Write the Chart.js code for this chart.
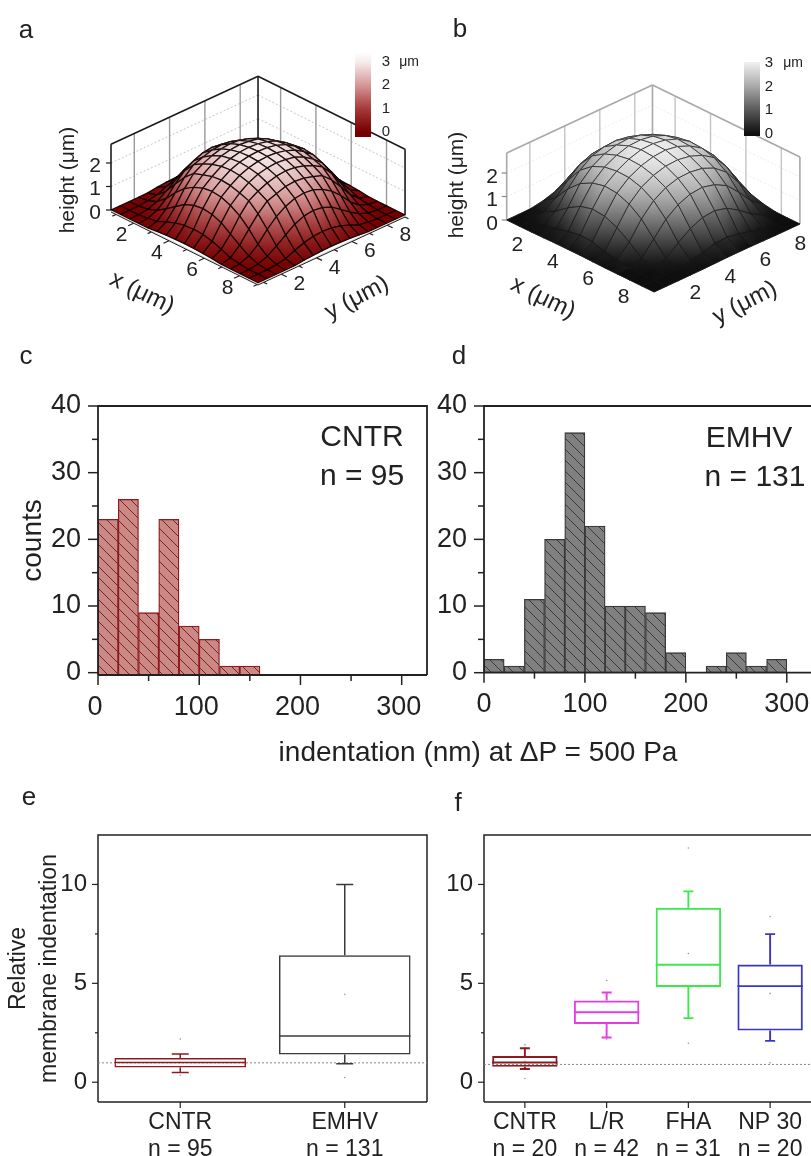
<!DOCTYPE html>
<html>
<head>
<meta charset="utf-8">
<title>Membrane indentation</title>
<script src="https://cdn.jsdelivr.net/npm/chart.js@4"></script>
<style>
  html, body { margin: 0; padding: 0; background: #fff; }
  body { position: relative; width: 811px; height: 1156px; overflow: hidden; font-family: "Liberation Sans", Arial, sans-serif; color: #222; }
  canvas { position: absolute; }
  .txt { position: absolute; white-space: nowrap; line-height: 1; transform: translate(-50%, -50%); }
</style>
</head>
<body>
<canvas id="surfA" width="440" height="335" style="left:0;top:0"></canvas>
<canvas id="surfB" width="371" height="335" style="left:440px;top:0"></canvas>
<canvas id="histC" width="430" height="360" style="left:0;top:380px"></canvas>
<canvas id="histD" width="381" height="360" style="left:430px;top:380px"></canvas>
<canvas id="boxE" width="431" height="356" style="left:0;top:800px"></canvas>
<canvas id="boxF" width="385" height="356" style="left:430px;top:800px"></canvas>

<div class="txt" style="left:26px;top:29px;font-size:26px">a</div>
<div class="txt" style="left:460px;top:28px;font-size:26px">b</div>
<div class="txt" style="left:26px;top:355px;font-size:26px">c</div>
<div class="txt" style="left:459px;top:355px;font-size:26px">d</div>
<div class="txt" style="left:29px;top:796px;font-size:26px">e</div>
<div class="txt" style="left:458px;top:802px;font-size:26px">f</div>
<div class="txt" style="left:362px;top:436px;font-size:30px">CNTR</div>
<div class="txt" style="left:362px;top:475px;font-size:30px">n = 95</div>
<div class="txt" style="left:749px;top:437px;font-size:30px">EMHV</div>
<div class="txt" style="left:755px;top:476px;font-size:30px">n = 131</div>
<div class="txt" style="left:478px;top:752px;font-size:28px">indentation (nm) at &Delta;P = 500 Pa</div>

<script>
/* ══════════════════════════════════════
   DATA
══════════════════════════════════════ */
const surfaceTicks = [2, 4, 6, 8];
const surfaceMinorTicks = [1, 3, 5, 7, 9];
const heightTicks = [0, 1, 2];
const legendTicks = [0, 1, 2, 3];

// heights in um, rows along y, columns along x
const heightsA = [
  [0,0,0,0,.01,.06,.09,.11,.12,.11,.09,.06,.01,0,0,0,0],
  [0,0,0,.05,.11,.28,.43,.52,.55,.52,.43,.28,.11,.05,0,0,0],
  [0,0,.06,.2,.46,.75,1.03,1.19,1.25,1.19,1.03,.75,.46,.2,.06,0,0],
  [0,.05,.2,.52,.97,1.34,1.59,1.75,1.8,1.75,1.59,1.34,.97,.52,.2,.05,0],
  [.01,.11,.46,.97,1.44,1.8,1.94,2.06,2.1,2.06,1.94,1.8,1.44,.97,.46,.11,.01],
  [.06,.28,.75,1.34,1.8,2.03,2.2,2.31,2.35,2.31,2.2,2.03,1.8,1.34,.75,.28,.06],
  [.09,.43,1.03,1.59,1.94,2.2,2.38,2.46,2.5,2.46,2.38,2.2,1.94,1.59,1.03,.43,.09],
  [.11,.52,1.19,1.75,2.06,2.31,2.46,2.55,2.58,2.55,2.46,2.31,2.06,1.75,1.19,.52,.11],
  [.12,.55,1.25,1.8,2.1,2.35,2.5,2.58,2.6,2.58,2.5,2.35,2.1,1.8,1.25,.55,.12],
  [.11,.52,1.19,1.75,2.06,2.31,2.46,2.55,2.58,2.55,2.46,2.31,2.06,1.75,1.19,.52,.11],
  [.09,.43,1.03,1.59,1.94,2.2,2.38,2.46,2.5,2.46,2.38,2.2,1.94,1.59,1.03,.43,.09],
  [.06,.28,.75,1.34,1.8,2.03,2.2,2.31,2.35,2.31,2.2,2.03,1.8,1.34,.75,.28,.06],
  [.01,.11,.46,.97,1.44,1.8,1.94,2.06,2.1,2.06,1.94,1.8,1.44,.97,.46,.11,.01],
  [0,.05,.2,.52,.97,1.34,1.59,1.75,1.8,1.75,1.59,1.34,.97,.52,.2,.05,0],
  [0,0,.06,.2,.46,.75,1.03,1.19,1.25,1.19,1.03,.75,.46,.2,.06,0,0],
  [0,0,0,.05,.11,.28,.43,.52,.55,.52,.43,.28,.11,.05,0,0,0],
  [0,0,0,0,.01,.06,.09,.11,.12,.11,.09,.06,.01,0,0,0,0]
];

const heightsB = [
  [0,0,0,.01,.02,.02,.02,.01,0,0,0,0,0],
  [0,0,.06,.16,.29,.39,.36,.2,.11,.01,0,0,0],
  [.01,.11,.4,.8,1.12,1.26,1.21,.98,.62,.18,.03,0,0],
  [.1,.46,1.1,1.59,1.87,2,1.95,1.74,1.36,.76,.18,.01,0],
  [.26,.96,1.66,2.08,2.31,2.39,2.37,2.21,1.9,1.36,.62,.11,0],
  [.57,1.41,2.03,2.37,2.57,2.66,2.63,2.48,2.21,1.74,.98,.2,.01],
  [.76,1.62,2.18,2.51,2.73,2.82,2.78,2.63,2.37,1.95,1.21,.36,.02],
  [.79,1.66,2.21,2.55,2.75,2.84,2.82,2.66,2.39,2,1.26,.39,.02],
  [.68,1.55,2.12,2.45,2.66,2.75,2.73,2.57,2.31,1.87,1.12,.29,.02],
  [.43,1.21,1.87,2.24,2.45,2.55,2.51,2.37,2.08,1.59,.8,.16,.01],
  [.16,.7,1.42,1.87,2.12,2.21,2.18,2.03,1.66,1.07,.4,.06,0],
  [.02,.2,.7,1.21,1.55,1.66,1.62,1.41,.98,.46,.11,0,0],
  [0,.02,.16,.43,.68,.79,.76,.57,.26,.1,.01,0,0]
];

const histBinCenters = [10, 30, 50, 70, 90, 110, 130, 150, 170, 190, 210, 230, 250, 270, 290];
const countsCntr = [23, 26, 9, 23, 7, 5, 1, 1, 0, 0, 0, 0, 0, 0, 0];
const countsEmhv = [2, 1, 11, 20, 36, 22, 10, 10, 9, 3, 0, 1, 3, 1, 2];
const histXTicks = [0, 50, 100, 150, 200, 250, 300];
const histYTicks = [0, 5, 10, 15, 20, 25, 30, 35, 40];

const boxYTicks = [0, 2.5, 5, 7.5, 10];

const labelsE = [["CNTR", "n = 95"], ["EMHV", "n = 131"]];
const q1E = [0.74, 1.40];
const q3E = [1.23, 6.42];
const medianE = [1.0, 2.34];
const whiskerLowE = [0.49, 0.94];
const whiskerHighE = [1.43, 10.0];
const meanE = [1.0, 4.45];
const outlierHighE = [2.18, null];
const outlierLowE = [0.35, 0.24];
const referenceE = 0.98;
const colorsE = ["#8e1a1f", "#3a3a3a"];

const labelsF = [["CNTR", "n = 20"], ["L/R", "n = 42"], ["FHA", "n = 31"], ["NP 30", "n = 20"]];
const q1F = [0.78, 2.95, 4.82, 2.61];
const q3F = [1.32, 4.13, 8.82, 5.95];
const medianF = [1.0, 3.54, 5.94, 4.86];
const whiskerLowF = [0.67, 2.26, 3.24, 2.09];
const whiskerHighF = [1.72, 4.54, 9.65, 7.49];
const meanF = [1.06, 3.54, 6.51, 4.49];
const outlierHighF = [1.9, 5.14, 11.84, 8.38];
const outlierLowF = [0.19, 2.18, 1.97, 0.98];
const referenceF = 0.9;
const colorsF = ["#8e1a1f", "#e63ce6", "#3ee84a", "#3a36cc"];

const FONT = '"Liberation Sans", Arial, sans-serif';
Chart.defaults.font.family = FONT;
Chart.defaults.color = "#222";

/* ══════════════════════════════════════
   SURFACE PANELS (a, b)
══════════════════════════════════════ */
const panelA = {
  origin: [111, 210], dx: [17.65, 8.76], dy: [17.65, -8.16], dz: 23.5,
  xMin: 0.72, yMin: 0.68, range: 8.33, wallTop: 2.8,
  heights: heightsA, colorGain: 1.13,
  stops: [[0, [118, 0, 0]], [1, [166, 58, 58]], [2, [214, 150, 150]], [3, [246, 236, 236]]],
  meshColor: "rgba(12,0,0,0.92)", meshWidth: 1.25,
  wallColor: "#1c1c1c", wallGrid: "#9a9a9a", dotColor: "#c4c4c4",
  edgeTicks: true,
  zLabelX: 95, zLabelOffset: 3,
  titleZ: [68, 180], titleX: [142, 293, 0.45], titleY: [357, 298, -0.48],
  xLabelOffset: [-12, 14], yLabelOffset: [18, 12],
  bar: { x: 355, w: 16, top: 52, bottom: 137, zero: 132, three: 62, labelX: 386, unitX: 409 }
};

const panelB = {
  origin: [66.7, 220], dx: [17.7, 8.64], dy: [17.5, -8.16], dz: 23.5,
  xMin: 0.72, yMin: 0.68, range: 8.33, wallTop: 2.85,
  heights: heightsB, colorGain: 1.05,
  stops: [[0, [14, 14, 14]], [1, [88, 88, 88]], [2, [168, 168, 168]], [3, [238, 238, 238]]],
  meshColor: "rgba(18,18,18,0.72)", meshWidth: 1,
  wallColor: "#a8a8a8", wallGrid: "#c4c4c4", dotColor: "#ececec",
  edgeTicks: false,
  zLabelX: 52, zLabelOffset: 4,
  titleZ: [17, 185], titleX: [103, 298, 0.45], titleY: [305, 303, -0.47],
  xLabelOffset: [-12, 14], yLabelOffset: [18, 12],
  bar: { x: 304, w: 16, top: 62, bottom: 136, zero: 134, three: 63, labelX: 329, unitX: 353 }
};

function project(p, x, y, z) {
  const u = x - p.xMin;
  const v = y - p.yMin;
  return {
    x: p.origin[0] + u * p.dx[0] + v * p.dy[0],
    y: p.origin[1] + u * p.dx[1] + v * p.dy[1] - z * p.dz
  };
}

function surfaceNodes(p) {
  const nodes = [];
  const n = p.heights.length - 1;
  p.heights.forEach((row, j) => {
    row.forEach((z, i) => {
      nodes.push(project(p, p.xMin + (i / n) * p.range, p.yMin + (j / n) * p.range, z));
    });
  });
  return nodes;
}

function heightColor(p, z) {
  const s = p.stops;
  const t = Math.max(s[0][0], Math.min(s[s.length - 1][0], z));
  for (let k = 0; k < s.length - 1; k++) {
    if (t <= s[k + 1][0]) {
      const f = (t - s[k][0]) / (s[k + 1][0] - s[k][0]);
      const c = s[k][1].map((a, m) => Math.round(a + (s[k + 1][1][m] - a) * f));
      return `rgb(${c[0]},${c[1]},${c[2]})`;
    }
  }
  return "#fff";
}

function line(ctx, a, b) {
  ctx.beginPath();
  ctx.moveTo(a.x, a.y);
  ctx.lineTo(b.x, b.y);
  ctx.stroke();
}

function rotatedText(ctx, text, x, y, angle, font) {
  ctx.save();
  ctx.translate(x, y);
  ctx.rotate(angle);
  ctx.font = font;
  ctx.textAlign = "center";
  ctx.textBaseline = "middle";
  ctx.fillStyle = "#222";
  ctx.fillText(text, 0, 0);
  ctx.restore();
}

function drawWalls(ctx, p) {
  const x0 = p.xMin, y0 = p.yMin, x1 = p.xMin + p.range, y1 = p.yMin + p.range, top = p.wallTop;

  // dotted height lines
  ctx.strokeStyle = p.dotColor;
  ctx.lineWidth = 1;
  ctx.setLineDash([2, 2]);
  [1, 2].forEach((z) => {
    line(ctx, project(p, x0, y0, z), project(p, x0, y1, z));
    line(ctx, project(p, x0, y1, z), project(p, x1, y1, z));
  });
  ctx.setLineDash([]);

  // tick grid on the walls
  ctx.strokeStyle = p.wallGrid;
  ctx.lineWidth = 1.4;
  surfaceTicks.forEach((t) => {
    line(ctx, project(p, x0, t, 0), project(p, x0, t, top));
    line(ctx, project(p, t, y1, 0), project(p, t, y1, top));
  });

  // outline
  ctx.strokeStyle = p.wallColor;
  ctx.lineWidth = 1.6;
  line(ctx, project(p, x0, y0, 0), project(p, x0, y0, top));
  line(ctx, project(p, x0, y0, top), project(p, x0, y1, top));
  line(ctx, project(p, x0, y1, 0), project(p, x0, y1, top));
  line(ctx, project(p, x0, y1, top), project(p, x1, y1, top));
  line(ctx, project(p, x1, y1, top), project(p, x1, y1, 0));
}

function drawMesh(ctx, p, pts) {
  const n = p.heights.length;
  const order = [];
  for (let j = 0; j < n - 1; j++) {
    for (let i = 0; i < n - 1; i++) order.push([i, j]);
  }
  // back corner first, front corner last
  order.sort((a, b) => (a[0] - a[1]) - (b[0] - b[1]));

  ctx.lineJoin = "round";
  order.forEach(([i, j]) => {
    const idx = [[i, j], [i + 1, j], [i + 1, j + 1], [i, j + 1]];
    const corners = idx.map(([c, r]) => ({ el: pts[r * n + c], z: p.heights[r][c] }));
    const low = corners.reduce((m, c) => (c.z < m.z ? c : m));
    const high = corners.reduce((m, c) => (c.z > m.z ? c : m));

    let paint = heightColor(p, low.z * p.colorGain);
    if (high.z - low.z > 0.005) {
      paint = ctx.createLinearGradient(low.el.x, low.el.y, high.el.x, high.el.y);
      paint.addColorStop(0, heightColor(p, low.z * p.colorGain));
      paint.addColorStop(1, heightColor(p, high.z * p.colorGain));
    }

    ctx.beginPath();
    corners.forEach((c, k) => (k ? ctx.lineTo(c.el.x, c.el.y) : ctx.moveTo(c.el.x, c.el.y)));
    ctx.closePath();
    ctx.fillStyle = paint;
    ctx.fill();
    ctx.strokeStyle = paint;
    ctx.lineWidth = 0.6;
    ctx.stroke();
    ctx.strokeStyle = p.meshColor;
    ctx.lineWidth = p.meshWidth;
    ctx.stroke();
  });
}

function drawSurfaceAxes(ctx, p) {
  const x0 = p.xMin, y0 = p.yMin, x1 = p.xMin + p.range, y1 = p.yMin + p.range;
  const labelFont = `21px ${FONT}`;

  if (p.edgeTicks) {
    // light rim and dark edge along the front sides
    const left = project(p, x0, y0, 0), front = project(p, x1, y0, 0), right = project(p, x1, y1, 0);
    ctx.strokeStyle = "#d8d8d8";
    ctx.lineWidth = 1.2;
    line(ctx, { x: left.x, y: left.y + 1 }, { x: front.x, y: front.y + 1 });
    line(ctx, { x: front.x, y: front.y + 1 }, { x: right.x, y: right.y + 1 });
    ctx.strokeStyle = "#1c1c1c";
    ctx.lineWidth = 1;
    line(ctx, { x: left.x, y: left.y + 2 }, { x: front.x, y: front.y + 2 });
    line(ctx, { x: front.x, y: front.y + 2 }, { x: right.x, y: right.y + 2 });

    ctx.lineWidth = 1.2;
    surfaceTicks.concat(surfaceMinorTicks).forEach((t) => {
      const len = surfaceTicks.includes(t) ? 6 : 4;
      const a = project(p, t, y0, 0);
      line(ctx, { x: a.x, y: a.y + 2 }, { x: a.x - 0.9 * len, y: a.y + 2 + 0.42 * len });
      const b = project(p, x1, t, 0);
      line(ctx, { x: b.x, y: b.y + 2 }, { x: b.x + 0.9 * len, y: b.y + 2 + 0.42 * len });
    });
  }

  // height axis
  ctx.strokeStyle = p.edgeTicks ? "#1c1c1c" : "#8a8a8a";
  ctx.lineWidth = 1.2;
  heightTicks.forEach((z) => {
    const a = project(p, x0, y0, z);
    line(ctx, { x: a.x - 5, y: a.y }, a);
    rotatedText(ctx, String(z), p.zLabelX, a.y + p.zLabelOffset, 0, labelFont);
  });

  surfaceTicks.forEach((t) => {
    const a = project(p, t, y0, 0);
    rotatedText(ctx, String(t), a.x + p.xLabelOffset[0], a.y + p.xLabelOffset[1], 0, labelFont);
    const b = project(p, x1, t, 0);
    rotatedText(ctx, String(t), b.x + p.yLabelOffset[0], b.y + p.yLabelOffset[1], 0, labelFont);
  });

  rotatedText(ctx, "height (\u03bcm)", p.titleZ[0], p.titleZ[1], -Math.PI / 2, `21px ${FONT}`);
  rotatedText(ctx, "x (\u03bcm)", p.titleX[0], p.titleX[1], p.titleX[2], `24px ${FONT}`);
  rotatedText(ctx, "y (\u03bcm)", p.titleY[0], p.titleY[1], p.titleY[2], `24px ${FONT}`);
}

function drawColorBar(ctx, p) {
  const b = p.bar;
  const unit = (b.zero - b.three) / 3;
  const grad = ctx.createLinearGradient(0, b.bottom, 0, b.top);
  grad.addColorStop(0, heightColor(p, 0));
  legendTicks.forEach((t) => {
    grad.addColorStop((b.bottom - (b.zero - t * unit)) / (b.bottom - b.top), heightColor(p, t));
  });
  grad.addColorStop(1, p.edgeTicks ? "#ffffff" : heightColor(p, 3));
  ctx.fillStyle = grad;
  ctx.fillRect(b.x, b.top, b.w, b.bottom - b.top);

  legendTicks.forEach((t) => {
    rotatedText(ctx, String(t), b.labelX, b.zero - t * unit, 0, `15px ${FONT}`);
  });
  rotatedText(ctx, "\u03bcm", b.unitX, b.three, 0, `14px ${FONT}`);
}

const surfacePlugin = {
  id: "surface",
  beforeDatasetsDraw(chart, args, opts) {
    const p = opts.panel;
    const ctx = chart.ctx;
    ctx.save();
    drawWalls(ctx, p);
    drawMesh(ctx, p, chart.getDatasetMeta(0).data);
    drawSurfaceAxes(ctx, p);
    drawColorBar(ctx, p);
    ctx.restore();
  }
};

function makeSurface(id, p) {
  const canvas = document.getElementById(id);
  return new Chart(canvas, {
    type: "scatter",
    data: {
      datasets: [{ data: surfaceNodes(p), pointRadius: 0, showLine: false }]
    },
    options: {
      responsive: false,
      animation: false,
      layout: { padding: 0 },
      plugins: { legend: { display: false }, tooltip: { enabled: false }, surface: { panel: p } },
      scales: {
        x: { display: false, type: "linear", min: 0, max: canvas.width },
        y: { display: false, type: "linear", min: 0, max: canvas.height, reverse: true }
      }
    },
    plugins: [surfacePlugin]
  });
}

/* ══════════════════════════════════════
   FRAME AND TICKS
══════════════════════════════════════ */
const frameTicks = {
  id: "frameTicks",
  afterDatasetsDraw(chart, args, opts) {
    const { ctx, chartArea: a, scales } = chart;
    ctx.save();
    ctx.strokeStyle = "#222";
    ctx.lineWidth = opts.width;

    ctx.beginPath();
    ctx.moveTo(a.left, a.bottom);
    ctx.lineTo(a.left, a.top);
    ctx.lineTo(a.right, a.top);
    if (opts.rightSide) ctx.lineTo(a.right, a.bottom);
    ctx.moveTo(a.left, a.bottom);
    ctx.lineTo(a.right, a.bottom);
    ctx.stroke();

    ctx.lineWidth = opts.tickWidth;
    scales.y.ticks.forEach((t) => {
      const py = scales.y.getPixelForValue(t.value);
      const len = t.label === "" ? opts.minor : opts.major;
      ctx.beginPath();
      ctx.moveTo(a.left, py);
      ctx.lineTo(a.left - len, py);
      ctx.stroke();
    });
    scales.x.ticks.forEach((t, i) => {
      const px = scales.x.getPixelForTick(i);
      const len = t.label === "" ? opts.minor : opts.major;
      ctx.beginPath();
      ctx.moveTo(px, a.bottom);
      ctx.lineTo(px, a.bottom + len);
      ctx.stroke();
    });
    ctx.restore();
  }
};

function fixWidth(w) {
  return (s) => { s.width = w; s.paddingTop = 0; s.paddingBottom = 0; };
}

function fixHeight(h) {
  return (s) => { s.height = h; s.paddingLeft = 0; s.paddingRight = 0; };
}

/* ══════════════════════════════════════
   HISTOGRAMS (c, d)
══════════════════════════════════════ */
function hatch(fill, stroke) {
  const size = 11;
  const tile = document.createElement("canvas");
  tile.width = size;
  tile.height = size;
  const c = tile.getContext("2d");
  c.fillStyle = fill;
  c.fillRect(0, 0, size, size);
  c.strokeStyle = stroke;
  c.lineWidth = 1;
  c.beginPath();
  c.moveTo(-2, -2);
  c.lineTo(size + 2, size + 2);
  c.moveTo(-2, size - 2);
  c.lineTo(2, size + 2);
  c.moveTo(size - 2, -2);
  c.lineTo(size + 2, 2);
  c.stroke();
  return c.createPattern(tile, "repeat");
}

function makeHist(id, counts, cfg) {
  return new Chart(document.getElementById(id), {
    type: "bar",
    data: {
      datasets: [
        {
          data: histBinCenters.map((x, i) => ({ x, y: counts[i] })).filter((d) => d.y > 0),
          backgroundColor: hatch(cfg.fill, cfg.hatch),
          borderColor: cfg.edge,
          borderWidth: 1.3,
          borderSkipped: false,
          barPercentage: 1,
          categoryPercentage: 1,
          base: cfg.yMin
        }
      ]
    },
    options: {
      responsive: false,
      animation: false,
      layout: { padding: { top: 26, right: cfg.right, left: 0, bottom: 0 } },
      plugins: {
        legend: { display: false },
        tooltip: { enabled: false },
        frameTicks: { width: 1.8, tickWidth: 1.5, major: 10, minor: 6, rightSide: cfg.right > 0 }
      },
      scales: {
        x: {
          type: "linear",
          offset: false,
          min: 0,
          max: cfg.xMax,
          grid: { display: false, tickLength: 0 },
          border: { display: false },
          afterFit: fixHeight(cfg.xHeight),
          afterBuildTicks: (s) => { s.ticks = histXTicks.map((value) => ({ value })); },
          ticks: {
            autoSkip: false,
            maxRotation: 0,
            padding: 16,
            labelOffset: cfg.labelShift,
            font: { size: 27 },
            callback: (v) => (v % 100 === 0 ? String(v) : "")
          }
        },
        y: {
          min: cfg.yMin,
          max: 40,
          grid: { display: false, tickLength: 0 },
          border: { display: false },
          afterFit: fixWidth(cfg.yWidth),
          afterBuildTicks: (s) => { s.ticks = histYTicks.map((value) => ({ value })); },
          title: cfg.title
            ? { display: true, text: cfg.title, font: { size: 28 }, padding: { top: 16, bottom: 0 } }
            : { display: false },
          ticks: {
            autoSkip: false,
            padding: 17,
            font: { size: 27 },
            callback: (v) => (v % 10 === 0 ? String(v) : "")
          }
        }
      }
    },
    plugins: [frameTicks]
  });
}

/* ══════════════════════════════════════
   BOX PLOTS (e, f)
══════════════════════════════════════ */
const boxParts = {
  id: "boxParts",
  afterDatasetsDraw(chart, args, opts) {
    const { ctx, chartArea: a, scales } = chart;
    const { x, y } = scales;
    const b = opts.box;
    ctx.save();

    // reference level
    ctx.strokeStyle = "#8a8a8a";
    ctx.lineWidth = 1;
    ctx.setLineDash([2, 2]);
    ctx.beginPath();
    ctx.moveTo(a.left, y.getPixelForValue(b.reference));
    ctx.lineTo(a.right, y.getPixelForValue(b.reference));
    ctx.stroke();
    ctx.setLineDash([]);

    const bars = chart.getDatasetMeta(0).data;
    b.labels.forEach((label, i) => {
      const px = x.getPixelForTick(i);
      ctx.strokeStyle = b.colors[i];
      ctx.lineWidth = opts.lineWidth;
      const half = bars[i].width / 2;

      const med = y.getPixelForValue(b.median[i]);
      ctx.beginPath();
      ctx.moveTo(px - half, med);
      ctx.lineTo(px + half, med);
      ctx.stroke();

      [[b.whiskerHigh[i], b.q3[i]], [b.whiskerLow[i], b.q1[i]]].forEach(([tip, edge]) => {
        const tp = y.getPixelForValue(tip);
        ctx.beginPath();
        ctx.moveTo(px, tp);
        ctx.lineTo(px, y.getPixelForValue(edge));
        ctx.moveTo(px - opts.cap, tp);
        ctx.lineTo(px + opts.cap, tp);
        ctx.stroke();
      });
    });
    ctx.restore();
  }
};

function dots(values) {
  return {
    type: "line",
    data: values,
    showLine: false,
    pointRadius: 0.8,
    pointBorderWidth: 0,
    pointBackgroundColor: "#9a9a9a"
  };
}

function makeBox(id, b, cfg) {
  return new Chart(document.getElementById(id), {
    data: {
      labels: b.labels,
      datasets: [
        {
          type: "bar",
          data: b.labels.map((_, i) => [b.q1[i], b.q3[i]]),
          backgroundColor: "rgba(0,0,0,0)",
          borderColor: b.colors,
          borderWidth: cfg.lineWidth,
          borderSkipped: false,
          barPercentage: 0.8,
          categoryPercentage: 1
        },
        dots(b.mean),
        dots(b.outlierHigh),
        dots(b.outlierLow)
      ]
    },
    options: {
      responsive: false,
      animation: false,
      layout: { padding: { top: 35, right: cfg.right, left: 0, bottom: 0 } },
      plugins: {
        legend: { display: false },
        tooltip: { enabled: false },
        boxParts: { box: b, cap: cfg.cap, lineWidth: cfg.lineWidth },
        frameTicks: { width: 1.5, tickWidth: 1.2, major: 6, minor: 3, rightSide: cfg.right > 0 }
      },
      scales: {
        x: {
          grid: { display: false, tickLength: 0 },
          border: { display: false },
          afterFit: fixHeight(54),
          ticks: {
            autoSkip: false,
            maxRotation: 0,
            padding: 7,
            font: { size: 23, lineHeight: 1.17 }
          }
        },
        y: {
          min: -1,
          max: 12.5,
          grid: { display: false, tickLength: 0 },
          border: { display: false },
          afterFit: fixWidth(cfg.yWidth),
          afterBuildTicks: (s) => { s.ticks = boxYTicks.map((value) => ({ value })); },
          title: cfg.title
            ? { display: true, text: cfg.title, font: { size: 23, lineHeight: 1.35 }, padding: { top: 3, bottom: 0 } }
            : { display: false },
          ticks: {
            autoSkip: false,
            padding: 11,
            font: { size: 24 },
            callback: (v) => (v % 5 === 0 ? String(v) : "")
          }
        }
      }
    },
    plugins: [frameTicks, boxParts]
  });
}

/* ══════════════════════════════════════
   START
══════════════════════════════════════ */
makeSurface("surfA", panelA);
makeSurface("surfB", panelB);

makeHist("histC", countsCntr, {
  fill: "#c98a85", hatch: "#8e1a1f", edge: "#8e1a1f", labelShift: -3,
  yMin: -0.35, xMax: 325, right: 3, xHeight: 65, yWidth: 98, title: "counts"
});
makeHist("histD", countsEmhv, {
  fill: "#808080", hatch: "#3a3a3a", edge: "#3a3a3a", labelShift: 0,
  yMin: 0, xMax: 324, right: 0, xHeight: 67.3, yWidth: 54, title: null
});

makeBox("boxE", {
  labels: labelsE, q1: q1E, q3: q3E, median: medianE,
  whiskerLow: whiskerLowE, whiskerHigh: whiskerHighE,
  mean: meanE, outlierHigh: outlierHighE, outlierLow: outlierLowE,
  reference: referenceE, colors: colorsE
}, { right: 3, yWidth: 98, cap: 8.5, lineWidth: 1.5, title: ["Relative", "membrane indentation"] });

makeBox("boxF", {
  labels: labelsF, q1: q1F, q3: q3F, median: medianF,
  whiskerLow: whiskerLowF, whiskerHigh: whiskerHighF,
  mean: meanF, outlierHigh: outlierHighF, outlierLow: outlierLowF,
  reference: referenceF, colors: colorsF
}, { right: 0, yWidth: 54, cap: 5, lineWidth: 1.9, title: null });
</script>
</body>
</html>
